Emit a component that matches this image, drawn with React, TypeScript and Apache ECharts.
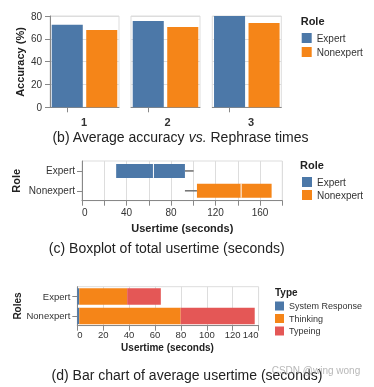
import React, { useEffect, useRef } from "react";
import * as echarts from "echarts";

const rephraseTimes = ["1", "2", "3"];
const roles = ["Expert", "Nonexpert"];
const accuracyExpert = [72.4, 75.6, 80.2];
const accuracyNonexpert = [67.7, 70.3, 73.8];

const boxMin = [30.7, 92.5];
const boxQ1 = [30.7, 103.3];
const boxMedian = [64.2, 143];
const boxQ3 = [92.5, 170.4];
const boxMax = [100.3, 170.4];

const usertimeTypes = ["System Response", "Thinking", "Typeing"];
const systemResponse = [1.5, 1.5];
const thinking = [37, 78.3];
const typeing = [26, 57.2];

const BLUE = "#4c78a8";
const ORANGE = "#f58518";
const RED = "#e45756";
const roleColors = [BLUE, ORANGE];
const FONT = "'Liberation Sans', Arial, Helvetica, sans-serif";
const AXIS = "#888";
const GRIDC = "#ddd";
const LABEL = "#333";

const facetLeft = [50, 131, 212.3];
const facetLabelX = [84, 167.5, 251];

function titleText(x: number, y: number, text: string, size: number, rotate = false, align = "center") {
  return {
    type: "text",
    x,
    y,
    rotation: rotate ? Math.PI / 2 : 0,
    style: {
      text,
      fontSize: size,
      fontWeight: "bold",
      fontFamily: FONT,
      fill: "#222",
      align,
      verticalAlign: "middle",
    },
  };
}

export default function App() {
  const ref = useRef<HTMLDivElement>(null);

  useEffect(() => {
    if (!ref.current) return;
    const chart = echarts.init(ref.current, undefined, { renderer: "svg" });

    const grids: any[] = [];
    const xAxes: any[] = [];
    const yAxes: any[] = [];
    const series: any[] = [];

    rephraseTimes.forEach((t, i) => {
      grids.push({
        left: facetLeft[i],
        top: 16,
        width: 69,
        height: 91.3,
        show: true,
        borderColor: GRIDC,
        borderWidth: 1,
      });
      xAxes.push({
        type: "category",
        gridIndex: i,
        data: roles,
        axisLine: { show: true, lineStyle: { color: AXIS } },
        axisTick: { show: true, alignWithLabel: true, length: 5, lineStyle: { color: AXIS } },
        axisLabel: { show: false },
        splitLine: { show: false },
      });
      yAxes.push({
        type: "value",
        gridIndex: i,
        min: 0,
        max: 80,
        interval: 20,
        axisLine: { show: i === 0, lineStyle: { color: AXIS } },
        axisTick: { show: i === 0, length: 5, lineStyle: { color: AXIS } },
        axisLabel: { show: i === 0, fontSize: 10, color: LABEL, margin: 8, fontFamily: FONT },
        splitLine: { show: true, lineStyle: { color: GRIDC } },
      });
      series.push({
        type: "bar",
        name: "Expert",
        xAxisIndex: i,
        yAxisIndex: i,
        data: [accuracyExpert[i], "-"],
        barGap: "-100%",
        barCategoryGap: "10%",
        itemStyle: { color: BLUE },
      });
      series.push({
        type: "bar",
        name: "Nonexpert",
        xAxisIndex: i,
        yAxisIndex: i,
        data: ["-", accuracyNonexpert[i]],
        barGap: "-100%",
        barCategoryGap: "10%",
        itemStyle: { color: ORANGE },
      });
    });

    // Boxplot panel
    grids.push({ left: 82, top: 161, width: 200.3, height: 39.7, show: true, borderColor: GRIDC, borderWidth: 1 });
    xAxes.push({
      type: "value",
      gridIndex: 3,
      min: 0,
      max: 180,
      interval: 20,
      axisLine: { show: true, lineStyle: { color: AXIS } },
      axisTick: { show: true, length: 5, lineStyle: { color: AXIS } },
      axisLabel: {
        fontSize: 10,
        color: LABEL,
        margin: 7,
        fontFamily: FONT,
        alignMinLabel: "left",
        formatter: (v: number) => (v % 40 === 0 ? String(v) : ""),
      },
      splitLine: { show: true, lineStyle: { color: GRIDC } },
    });
    yAxes.push({
      type: "category",
      gridIndex: 3,
      data: roles,
      inverse: true,
      axisLine: { show: true, lineStyle: { color: AXIS } },
      axisTick: { show: true, alignWithLabel: true, length: 5, lineStyle: { color: AXIS } },
      axisLabel: { fontSize: 10, color: LABEL, margin: 7, fontFamily: FONT },
      splitLine: { show: false },
    });
    series.push({
      type: "custom",
      name: "Usertime",
      xAxisIndex: 3,
      yAxisIndex: 3,
      encode: { x: [1, 2, 3, 4, 5], y: 0 },
      data: roles.map((r, i) => [i, boxMin[i], boxQ1[i], boxMedian[i], boxQ3[i], boxMax[i]]),
      renderItem: (params: any, api: any) => {
        const yi = api.value(0);
        const c = (v: number) => api.coord([v, yi]);
        const pMin = c(api.value(1));
        const pQ1 = c(api.value(2));
        const pMed = c(api.value(3));
        const pQ3 = c(api.value(4));
        const pMax = c(api.value(5));
        const cy = pMin[1];
        const h = 14;
        const color = roleColors[yi];
        return {
          type: "group",
          children: [
            { type: "line", shape: { x1: pMin[0], y1: cy, x2: pQ1[0], y2: cy }, style: { stroke: "#777", lineWidth: 1.6 } },
            { type: "line", shape: { x1: pQ3[0], y1: cy, x2: pMax[0], y2: cy }, style: { stroke: "#777", lineWidth: 1.6 } },
            { type: "rect", shape: { x: pQ1[0], y: cy - h / 2, width: pQ3[0] - pQ1[0], height: h }, style: { fill: color } },
            { type: "line", shape: { x1: pMed[0], y1: cy - h / 2, x2: pMed[0], y2: cy + h / 2 }, style: { stroke: "#fff", lineWidth: 1 } },
          ],
        };
      },
    });

    // Stacked bar panel
    grids.push({ left: 77.3, top: 286.7, width: 181.3, height: 39, show: true, borderColor: GRIDC, borderWidth: 1 });
    xAxes.push({
      type: "value",
      gridIndex: 4,
      min: 0,
      max: 140,
      interval: 20,
      axisLine: { show: true, lineStyle: { color: AXIS } },
      axisTick: { show: true, length: 5, lineStyle: { color: AXIS } },
      axisLabel: { fontSize: 9.5, color: LABEL, margin: 4, fontFamily: FONT, alignMinLabel: "left", alignMaxLabel: "right" },
      splitLine: { show: true, lineStyle: { color: GRIDC } },
    });
    yAxes.push({
      type: "category",
      gridIndex: 4,
      data: roles,
      inverse: true,
      axisLine: { show: true, lineStyle: { color: AXIS } },
      axisTick: { show: true, alignWithLabel: true, length: 5, lineStyle: { color: AXIS } },
      axisLabel: { fontSize: 9.5, color: LABEL, margin: 7, fontFamily: FONT },
      splitLine: { show: false },
    });
    const stackData = [systemResponse, thinking, typeing];
    const stackColors = [BLUE, ORANGE, RED];
    usertimeTypes.forEach((name, k) => {
      series.push({
        type: "bar",
        name,
        stack: "total",
        xAxisIndex: 4,
        yAxisIndex: 4,
        data: stackData[k],
        barCategoryGap: "16%",
        itemStyle: { color: stackColors[k] },
      });
    });

    const legendBase = {
      orient: "vertical",
      icon: "rect",
      padding: 0,
      selectedMode: false,
    };

    const option: any = {
      animation: false,
      textStyle: { fontFamily: FONT },
      grid: grids,
      xAxis: xAxes,
      yAxis: yAxes,
      series,
      legend: [
        { ...legendBase, data: roles, left: 301.7, top: 33, itemWidth: 10, itemHeight: 10, itemGap: 4, textStyle: { fontSize: 10, color: LABEL, fontFamily: FONT } },
        { ...legendBase, data: roles, left: 302, top: 177, itemWidth: 10, itemHeight: 10, itemGap: 3, textStyle: { fontSize: 10, color: LABEL, fontFamily: FONT } },
        { ...legendBase, data: usertimeTypes, left: 275, top: 301.5, itemWidth: 9, itemHeight: 9, itemGap: 3.5, textStyle: { fontSize: 9, color: LABEL, fontFamily: FONT } },
      ],
      graphic: [
        titleText(20, 62, "Accuracy (%)", 11, true),
        ...rephraseTimes.map((t, i) => ({
          type: "text",
          x: facetLabelX[i],
          y: 122,
          style: { text: t, fontSize: 11, fontWeight: "bold", fontFamily: FONT, fill: "#333", align: "center", verticalAlign: "middle" },
        })),
        titleText(300.7, 20.7, "Role", 11, false, "left"),
        {
          type: "text",
          x: 180.3,
          y: 137,
          style: {
            text: "{a|(b) Average accuracy }{i|vs.}{a| Rephrase times}",
            align: "center",
            verticalAlign: "middle",
            rich: {
              a: { fontSize: 14, fontFamily: FONT, fill: "#222", color: "#222" },
              i: { fontSize: 14, fontFamily: FONT, fontStyle: "italic", fill: "#222", color: "#222" },
            },
          },
        },
        titleText(16, 180.8, "Role", 11, true),
        titleText(182.3, 227.7, "Usertime (seconds)", 11),
        titleText(300, 165, "Role", 11, false, "left"),
        {
          type: "text",
          x: 166.7,
          y: 247.5,
          style: { text: "(c) Boxplot of total usertime (seconds)", fontSize: 14, fontFamily: FONT, fill: "#222", align: "center", verticalAlign: "middle" },
        },
        titleText(17.3, 306, "Roles", 10, true),
        titleText(167.5, 347.7, "Usertime (seconds)", 10),
        titleText(275, 292.3, "Type", 10, false, "left"),
        {
          type: "text",
          x: 187,
          y: 374.5,
          style: { text: "(d) Bar chart of average usertime (seconds)", fontSize: 14, fontFamily: FONT, fill: "#222", align: "center", verticalAlign: "middle" },
        },
        {
          type: "text",
          x: 271.7,
          y: 370,
          z: 100,
          style: { text: "CSDN @wing wong", fontSize: 10, fontFamily: FONT, fill: "rgba(160,160,160,0.75)", align: "left", verticalAlign: "middle" },
        },
      ],
    };

    chart.setOption(option);
    return () => chart.dispose();
  }, []);

  return <div ref={ref} style={{ position: "fixed", left: 0, top: 0, width: 374, height: 387 }} />;
}
